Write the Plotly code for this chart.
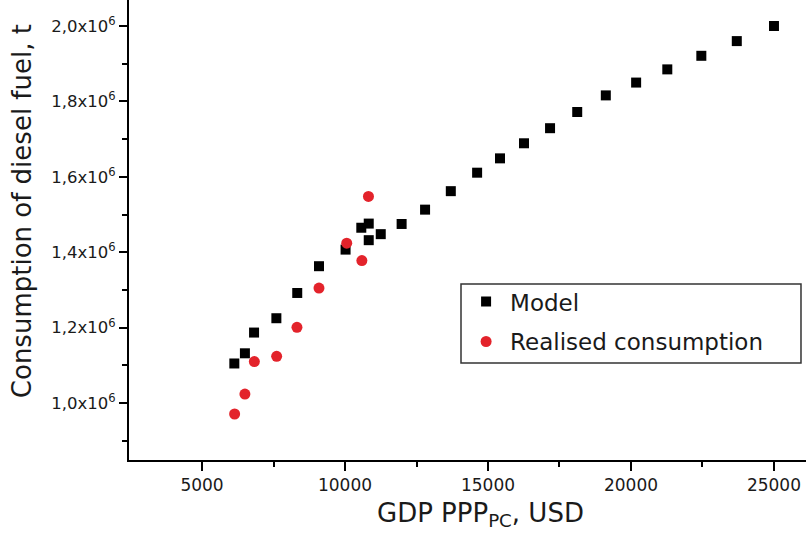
import plotly.graph_objects as go

# GDP per capita (PPP, USD) and diesel fuel consumption (t)
model_gdp = [6130, 6500, 6820, 7600, 8330, 9090, 10020, 10570, 10830, 10830,
             11250, 11980, 12800, 13700, 14620, 15420, 16260, 17170, 18120,
             19120, 20180, 21270, 22460, 23700, 25000]
model_fuel = [1.105e6, 1.132e6, 1.187e6, 1.225e6, 1.292e6, 1.363e6, 1.407e6,
              1.465e6, 1.476e6, 1.432e6, 1.448e6, 1.475e6, 1.513e6, 1.562e6,
              1.611e6, 1.649e6, 1.689e6, 1.729e6, 1.772e6, 1.816e6, 1.850e6,
              1.885e6, 1.921e6, 1.960e6, 2.000e6]

real_gdp = [6140, 6500, 6830, 7610, 8320, 9090, 10060, 10590, 10820]
real_fuel = [0.971e6, 1.024e6, 1.110e6, 1.124e6, 1.201e6, 1.305e6, 1.424e6,
             1.378e6, 1.548e6]

x_ticks = [5000, 10000, 15000, 20000, 25000]
x_tick_text = ["5000", "10000", "15000", "20000", "25000"]
x_minor = [7500, 12500, 17500, 22500]
y_ticks = [1.0e6, 1.2e6, 1.4e6, 1.6e6, 1.8e6, 2.0e6]
y_tick_text = ["1,0x10<sup>6</sup>", "1,2x10<sup>6</sup>", "1,4x10<sup>6</sup>",
               "1,6x10<sup>6</sup>", "1,8x10<sup>6</sup>", "2,0x10<sup>6</sup>"]
y_minor = [0.9e6, 1.1e6, 1.3e6, 1.5e6, 1.7e6, 1.9e6]

FONT = "DejaVu Sans"
TEXT = "#1a1a1a"

fig = go.Figure()
fig.add_trace(go.Scatter(
    x=model_gdp, y=model_fuel, mode="markers", name="Model", legendgroup="model",
    marker=dict(symbol="square", size=10, color="black"),
))
fig.add_trace(go.Scatter(
    x=real_gdp, y=real_fuel, mode="markers", name="Realised consumption",
    legendgroup="real",
    marker=dict(symbol="circle", size=11, color="#e3232b"),
))

fig.update_layout(
    width=806, height=539,
    margin=dict(l=129, r=0, t=0, b=79),
    paper_bgcolor="white", plot_bgcolor="white",
    font=dict(family=FONT, color=TEXT),
    showlegend=True,
    legend=dict(
        x=0.492, y=0.391, xanchor="left", yanchor="top",
        borderwidth=0, bgcolor="rgba(255,255,255,0)",
        font=dict(family=FONT, size=23, color=TEXT),
        itemwidth=38, tracegroupgap=7,
    ),
    # frame around the legend entries
    shapes=[dict(type="rect", xref="paper", yref="paper",
                 x0=0.4904, x1=0.9926, y0=0.2109, y1=0.3826,
                 line=dict(color="#333333", width=1.5),
                 fillcolor="rgba(0,0,0,0)", layer="below")],
    annotations=[
        dict(text="GDP PPP<sub>PC</sub>, USD", xref="paper", yref="paper",
             x=0.5185, y=-0.118, xanchor="center", yanchor="middle",
             showarrow=False, font=dict(family=FONT, size=26, color=TEXT)),
        dict(text="Consumption of diesel fuel, t", xref="paper", yref="paper",
             x=-0.158, y=0.541, xanchor="center", yanchor="middle",
             textangle=-90, showarrow=False,
             font=dict(family=FONT, size=26, color=TEXT)),
    ],
)

fig.update_xaxes(
    range=[2447, 26120],
    showline=True, linecolor="black", linewidth=2,
    showgrid=False, zeroline=False,
    tickmode="array", tickvals=x_ticks, ticktext=x_tick_text,
    ticks="outside", ticklen=9, tickwidth=2, tickcolor="black",
    tickfont=dict(family=FONT, size=17, color=TEXT),
    minor=dict(tickmode="array", tickvals=x_minor, ticks="outside",
               ticklen=5, tickwidth=2, tickcolor="black", showgrid=False),
)
fig.update_yaxes(
    range=[0.849e6, 2.069e6],
    showline=True, linecolor="black", linewidth=2,
    showgrid=False, zeroline=False,
    tickmode="array", tickvals=y_ticks, ticktext=y_tick_text,
    ticks="outside", ticklen=8, tickwidth=2, tickcolor="black",
    tickfont=dict(family=FONT, size=16.5, color=TEXT),
    minor=dict(tickmode="array", tickvals=y_minor, ticks="outside",
               ticklen=5, tickwidth=2, tickcolor="black", showgrid=False),
)

fig.write_html("out.html")
